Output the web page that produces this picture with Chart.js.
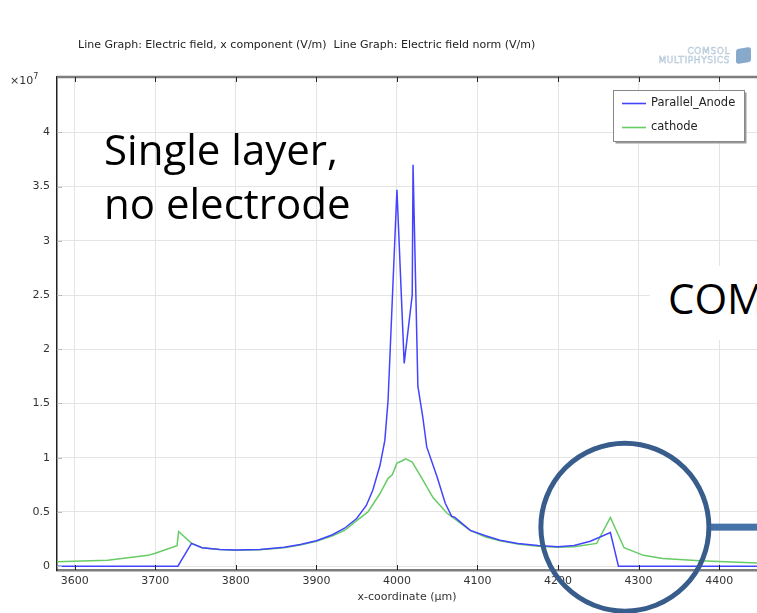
<!DOCTYPE html>
<html>
<head>
<meta charset="utf-8">
<script src="https://cdn.jsdelivr.net/npm/chart.js@4.4.1/dist/chart.umd.min.js"></script>
<style>
  html, body { margin: 0; padding: 0; background: #fff; overflow: hidden; }
  #wrap { position: relative; width: 757px; height: 613px; overflow: hidden; }
  #plot { position: absolute; left: 0; top: 0; }
  .txt { position: absolute; font-family: "DejaVu Sans", sans-serif; color: #222; white-space: nowrap; }
  #title { left: 78px; top: 38px; font-size: 11px; }
  #exp { left: 10px; top: 72px; font-size: 11px; color: #333; }
  #exp sup { font-size: 8px; }
  #logo { left: 640px; top: 45px; width: 116px; height: 22px; }
  #logo .w { position: absolute; right: 26px; font-family: "DejaVu Sans", sans-serif; font-size: 9px; line-height: 9px;
             color: #fff; -webkit-text-stroke: 0.5px #a9bfd2; text-align: right; letter-spacing: 0.6px; }
  #logo .cube { position: absolute; right: 5px; top: 3px; width: 15px; height: 15px; background: #86a9cc; border-radius: 3px; transform: skewY(-8deg); }
  .note { position: absolute; font-family: "Open Sans", sans-serif; color: #000; white-space: nowrap; line-height: 1; }
  #note1 { left: 104px; top: 128px; font-size: 42px; }
  #note2 { left: 104px; top: 182px; font-size: 42px; }
  #comBox { position: absolute; left: 650px; top: 266px; width: 110px; height: 74px; background: #fff; }
  #com { left: 668px; top: 277px; font-size: 42px; }
</style>
</head>
<body>
<div id="wrap">
  <canvas id="plot" width="757" height="613"></canvas>
  <div id="title" class="txt">Line Graph: Electric field, x component (V/m)&nbsp;&nbsp;Line Graph: Electric field norm (V/m)</div>
  <div id="exp" class="txt">×10<sup>7</sup></div>
  <div id="logo" class="txt"><div class="w" style="top:2px">COMSOL</div><div class="w" style="top:11px">MULTIPHYSICS</div><div class="cube"></div></div>
  <div id="note1" class="note">Single layer,</div>
  <div id="note2" class="note">no electrode</div>
  <div id="comBox"></div>
  <div id="com" class="note">COM</div>
</div>
<script>
// x-coordinate (µm) and field (×10^7 V/m) along the cut line
const anodeX = [3578, 3728, 3745, 3758, 3780, 3800, 3830, 3860, 3880, 3900, 3920, 3935, 3950, 3962, 3970,
                3979, 3985, 3989, 4000, 4009, 4019, 4020, 4026, 4032, 4037, 4050, 4060, 4068, 4072, 4080,
                4091, 4110, 4128, 4150, 4175, 4200, 4220, 4240, 4265, 4275, 4447];
const anodeField = [0, 0, 0.21, 0.17, 0.155, 0.15, 0.155, 0.175, 0.2, 0.235, 0.29, 0.35, 0.44, 0.56, 0.70,
                    0.93, 1.16, 1.53, 3.47, 1.87, 2.50, 3.70, 1.66, 1.38, 1.10, 0.82, 0.58, 0.46, 0.45, 0.40,
                    0.33, 0.28, 0.24, 0.21, 0.19, 0.18, 0.19, 0.23, 0.31, 0, 0];

const cathodeX = [3578, 3641, 3691, 3700, 3727, 3729, 3745, 3758, 3780, 3800, 3830, 3860, 3880, 3900, 3920,
                  3935, 3950, 3964, 3979, 3989, 3994, 4000, 4006, 4011, 4019, 4031, 4045, 4062, 4080, 4091,
                  4110, 4128, 4150, 4175, 4200, 4220, 4248, 4265, 4282, 4306, 4330, 4376, 4447];
const cathodeField = [0.04, 0.055, 0.10, 0.12, 0.19, 0.32, 0.21, 0.17, 0.155, 0.148, 0.152, 0.17, 0.195, 0.23, 0.28,
                      0.33, 0.42, 0.50, 0.67, 0.81, 0.84, 0.95, 0.97, 0.99, 0.96, 0.81, 0.63, 0.49, 0.39, 0.33,
                      0.27, 0.235, 0.205, 0.185, 0.175, 0.18, 0.21, 0.45, 0.17, 0.10, 0.07, 0.05, 0.03];

const seriesNames = ["Parallel_Anode", "cathode"];
const xTicks = [3600, 3700, 3800, 3900, 4000, 4100, 4200, 4300, 4400];
const yTicks = [0, 0.5, 1, 1.5, 2, 2.5, 3, 3.5, 4];

const toPoints = (xs, ys) => xs.map((x, i) => ({ x: x, y: ys[i] }));

// frame, inward tick marks, legend box and the highlight circle
const decorations = {
  id: 'decorations',
  afterDraw(chart) {
    const { ctx, chartArea: a, scales } = chart;
    ctx.save();
    // top frame line
    ctx.strokeStyle = '#7d7d7d';
    ctx.lineWidth = 2.5;
    ctx.beginPath(); ctx.moveTo(a.left, a.top); ctx.lineTo(a.right, a.top); ctx.stroke();
    // inward ticks on bottom and top
    ctx.strokeStyle = '#222';
    ctx.lineWidth = 1;
    xTicks.forEach(v => {
      const px = Math.round(scales.x.getPixelForValue(v)) + 0.5;
      ctx.beginPath(); ctx.moveTo(px, a.bottom); ctx.lineTo(px, a.bottom - 5); ctx.stroke();
      ctx.beginPath(); ctx.moveTo(px, a.top); ctx.lineTo(px, a.top + 5); ctx.stroke();
    });
    ctx.strokeStyle = '#bbb';
    yTicks.forEach(v => {
      const py = Math.round(scales.y.getPixelForValue(v)) + 0.5;
      ctx.beginPath(); ctx.moveTo(a.left, py); ctx.lineTo(a.left + 5, py); ctx.stroke();
    });

    // legend
    const lx = 613.5, ly = 90.5, lw = 131, lh = 51;
    ctx.fillStyle = '#999';
    ctx.fillRect(lx + 2, ly + 2, lw, lh);
    ctx.fillStyle = '#fff';
    ctx.fillRect(lx, ly, lw, lh);
    ctx.strokeStyle = '#888';
    ctx.lineWidth = 1;
    ctx.strokeRect(lx, ly, lw, lh);
    ctx.font = '11.5px "DejaVu Sans"';
    ctx.textBaseline = 'middle';
    chart.data.datasets.forEach((ds, i) => {
      const y = 103.5 + i * 24;
      ctx.strokeStyle = ds.borderColor;
      ctx.lineWidth = 1.6;
      ctx.beginPath(); ctx.moveTo(622, y); ctx.lineTo(646, y); ctx.stroke();
      ctx.fillStyle = '#222';
      ctx.fillText(ds.label, 651, y);
    });

    // highlight circle around the right-hand edge bump, with connector bar
    const cx = scales.x.getPixelForValue(4283);
    const cy = scales.y.getPixelForValue(0.36);
    ctx.strokeStyle = '#385c8b';
    ctx.lineWidth = 5;
    ctx.beginPath(); ctx.arc(cx, cy, 84, 0, Math.PI * 2); ctx.stroke();
    ctx.fillStyle = '#4672aa';
    ctx.fillRect(cx + 86, cy - 3.5, 80, 7);
    ctx.restore();
  }
};

new Chart(document.getElementById('plot'), {
  type: 'line',
  data: {
    datasets: [
      { label: seriesNames[0], data: toPoints(anodeX, anodeField), borderColor: '#4444ff', borderWidth: 1.5,
        pointRadius: 0, tension: 0, fill: false },
      { label: seriesNames[1], data: toPoints(cathodeX, cathodeField), borderColor: '#66cc66', borderWidth: 1.5,
        pointRadius: 0, tension: 0, fill: false }
    ]
  },
  options: {
    responsive: false,
    animation: false,
    events: [],
    layout: { padding: { top: 77, right: 0, left: 0, bottom: 9 } },
    plugins: { legend: { display: false }, title: { display: false }, tooltip: { enabled: false } },
    scales: {
      x: {
        type: 'linear', min: 3578, max: 4447,
        afterBuildTicks: s => { s.ticks = xTicks.map(v => ({ value: v })); },
        afterFit: s => { s.height = 34; },
        grid: { color: '#e4e4e4', lineWidth: 1, drawTicks: false },
        border: { color: '#7d7d7d', width: 2.5 },
        ticks: { color: '#333', font: { family: 'DejaVu Sans', size: 11 }, padding: 5, maxRotation: 0,
                 callback: v => String(v) },
        title: { display: true, text: 'x-coordinate (µm)', color: '#333', font: { family: 'DejaVu Sans', size: 11 }, padding: { top: 0, bottom: 0 } }
      },
      y: {
        type: 'linear', min: -0.035, max: 4.51,
        afterBuildTicks: s => { s.ticks = yTicks.map(v => ({ value: v })); },
        afterFit: s => { s.width = 57; },
        grid: { color: '#e4e4e4', lineWidth: 1, drawTicks: false },
        border: { color: '#222', width: 1.5 },
        ticks: { color: '#333', font: { family: 'DejaVu Sans', size: 11 }, padding: 7,
                 callback: v => String(v) }
      }
    }
  },
  plugins: [decorations]
});
</script>
</body>
</html>
